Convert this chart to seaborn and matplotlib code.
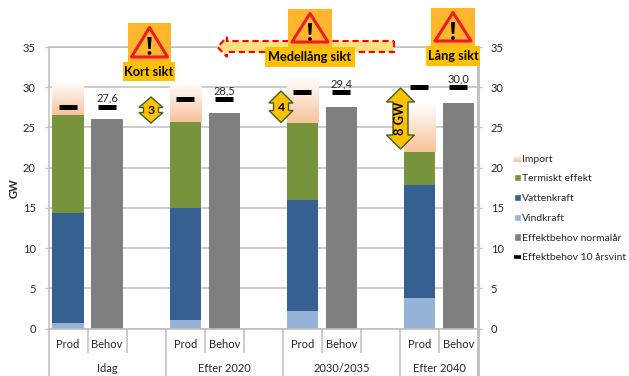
import numpy as np
import pandas as pd
import matplotlib
matplotlib.use("Agg")
import matplotlib.pyplot as plt
import seaborn as sns
from matplotlib.colors import LinearSegmentedColormap
from matplotlib.legend_handler import HandlerBase
from matplotlib.lines import Line2D
from matplotlib.patches import Patch, Polygon, Rectangle, Circle

# Capacity balance per period (GW)
periods = ["Idag", "Efter 2020", "2030/2035", "Efter 2040"]
bar_labels = ["Prod", "Behov"]
vindkraft = [0.7, 1.05, 2.2, 3.8]
vattenkraft = [13.7, 13.95, 13.8, 14.1]
termiskt = [12.1, 10.65, 9.6, 4.1]
importkraft = [4.0, 4.9, 5.6, 6.0]
behov_normal = [26.0, 26.8, 27.5, 28.0]
behov_10ar = [27.6, 28.5, 29.4, 30.0]
behov_text = ["27,6", "28,5", "29,4", "30,0"]
gap_labels = ["3", "4", "8 GW"]
horizon_labels = ["Kort sikt", "Medellång sikt", "Lång sikt"]
y_ticks = [0, 5, 10, 15, 20, 25, 30, 35]

C_VIND, C_VATTEN = "#95B3D7", "#366092"
C_TERM, C_GRAY = "#77933C", "#7F7F7F"
C_IMP_LOW = "#F9C29A"
C_GRID, C_TEXT = "#BFBFBF", "#262626"
C_GOLD, C_ICON = "#FFC000", "#FFB62C"
FONT = "Lato"
FS = 8.0
LEG_FS = 7.5

sns.set_theme(style="white")
plt.rcParams["font.family"] = [FONT, "DejaVu Sans"]
plt.rcParams["text.color"] = C_TEXT

W, H = 629, 376
fig = plt.figure(figsize=(W / 100, H / 100), dpi=100, facecolor="white")
L, R, T, B = 48.5, 478.0, 47.0, 328.7
ax = fig.add_axes([L / W, 1 - B / H, (R - L) / W, (B - T) / H])

prod_slots = [0, 3, 6, 9]
behov_slots = [1, 4, 7, 10]
slot_order = list(range(11))
imp_ramp = LinearSegmentedColormap.from_list("imp", ["#FFFFFF", C_IMP_LOW])


def stacked(slots, values, bottoms, color):
    df = pd.DataFrame({"slot": slots, "gw": values})
    sns.barplot(data=df, x="slot", y="gw", order=slot_order, color=color,
                saturation=1, width=0.8, bottom=bottoms, errorbar=None,
                linewidth=0, edgecolor="none", ax=ax)


base = np.zeros(4)
for vals, col in [(vindkraft, C_VIND), (vattenkraft, C_VATTEN), (termiskt, C_TERM)]:
    stacked(prod_slots, vals, base, col)
    base = base + np.array(vals)
stacked(behov_slots, behov_normal, np.zeros(4), C_GRAY)

# Import fades from peach at the base to white at the top of each bar
ramp = np.linspace(0, 1, 64)[:, None]
for slot, b0, h in zip(prod_slots, base, importkraft):
    ax.imshow(ramp, cmap=imp_ramp, origin="upper", aspect="auto", zorder=2.5,
              extent=(slot - 0.4, slot + 0.4, b0, b0 + h))

ax.plot(prod_slots, behov_10ar, ls="", marker="_", ms=13.6, mew=3.6, color="black", zorder=4)
ax.plot(behov_slots, behov_10ar, ls="", marker="_", ms=13.6, mew=3.6, color="black", zorder=4)
for slot, val, txt in zip(behov_slots, behov_10ar, behov_text):
    ax.annotate(txt, (slot, val), xytext=(0, 2.2), textcoords="offset points",
                ha="center", va="bottom", fontsize=FS, color=C_TEXT, zorder=5)

ax.set_xlim(-0.5, 10.5)
ax.set_ylim(0, 35)
ax.set_axisbelow(True)
ax.set_yticks(y_ticks)
ax.yaxis.grid(True, color=C_GRID, lw=1.1)
ax.xaxis.grid(False)
ax.set_xticks([])
ax.set_xlabel("")
ax.set_ylabel("GW", fontsize=FS, fontweight="bold", labelpad=2, color=C_TEXT)
ax.tick_params(axis="y", left=True, length=3.2, width=1, color=C_GRID, pad=6,
               labelsize=FS, labelcolor=C_TEXT)
for side, lw in [("left", 1.1), ("right", 2.0), ("top", 1.1), ("bottom", 1.1)]:
    ax.spines[side].set_color(C_GRID)
    ax.spines[side].set_linewidth(lw)

ax2 = ax.twinx()
ax2.set_ylim(0, 35)
ax2.set_yticks(y_ticks)
ax2.grid(False)
ax2.tick_params(axis="y", right=True, length=3.2, width=1, color=C_GRID, pad=6,
                labelsize=FS, labelcolor=C_TEXT)
for s in ax2.spines.values():
    s.set_visible(False)

# Overlay in pixel units for the two-level axis and the callouts
ov = fig.add_axes([0, 0, 1, 1], facecolor="none")
ov.set_xlim(0, W)
ov.set_ylim(H, 0)
ov.axis("off")
ov.set_zorder(10)

slot_w = (R - L) / 11
for i in range(12):
    x = L + i * slot_w
    if i == 11:
        ov.plot([x, x], [B, H], color=C_GRID, lw=2.0, solid_capstyle="butt")
    else:
        end = H if i % 3 == 0 else 352.7
        ov.plot([x, x], [B, end], color=C_GRID, lw=1.1, solid_capstyle="butt")
for k, period in enumerate(periods):
    x0 = L + 3 * k * slot_w
    for j, lab in enumerate(bar_labels):
        ov.text(x0 + (j + 0.5) * slot_w, 345, lab, ha="center", va="center",
                fontsize=FS, color=C_TEXT)
    span = 2 if k == 3 else 3
    ov.text(x0 + span * slot_w / 2, 369, period, ha="center", va="center",
            fontsize=FS, color=C_TEXT)


def double_arrow(xc, top, bottom, half_head, half_shaft, head):
    pts = [(xc, top), (xc + half_head, top + head), (xc + half_shaft, top + head),
           (xc + half_shaft, bottom - head), (xc + half_head, bottom - head), (xc, bottom),
           (xc - half_head, bottom - head), (xc - half_shaft, bottom - head),
           (xc - half_shaft, top + head), (xc - half_head, top + head)]
    ov.add_patch(Polygon(pts, closed=True, fc=C_GOLD, ec="#3F5F22", lw=1.0, zorder=6, joinstyle="miter"))


double_arrow(151, 97, 123, 12, 7.5, 10.5)
double_arrow(281, 91, 122.5, 12, 7.5, 12)
double_arrow(400.5, 88, 149, 14, 7.5, 14)
ov.text(151, 110.5, gap_labels[0], ha="center", va="center", fontsize=8.8, fontweight="bold", color="black", zorder=7)
ov.text(281, 107.5, gap_labels[1], ha="center", va="center", fontsize=8.8, fontweight="bold", color="black", zorder=7)
ov.text(400.5, 118, gap_labels[2], ha="center", va="center", rotation=90, fontsize=9.3,
        fontweight="bold", color="black", zorder=7)

# Long horizontal arrow pointing back in time
shaft = [(394, 41), (394, 52), (227, 52), (227, 57), (217.5, 47), (227, 37), (227, 41)]
ov.add_patch(Polygon(shaft, closed=True, fc="#FFDF80", ec="none", zorder=6))
ov.add_patch(Polygon(shaft, closed=True, fill=False, ec="#FF0000", lw=1.5,
                     linestyle=(0, (3.0, 1.8)), zorder=6.1))


def warning(x0, x1, y0, y1):
    ov.add_patch(Rectangle((x0, y0), x1 - x0, y1 - y0, fc=C_ICON, ec="none", zorder=8))
    xc = (x0 + x1) / 2
    tri = [(xc, y0 + 4.5), (xc + 18, y1 - 5), (xc - 18, y1 - 5)]
    ov.add_patch(Polygon(tri, closed=True, fc=C_ICON, ec="#ED1C24", lw=2.2, joinstyle="round", zorder=8.1))
    bar = [(xc - 2.1, y0 + 14), (xc + 2.1, y0 + 14), (xc + 1.2, y0 + 26), (xc - 1.2, y0 + 26)]
    ov.add_patch(Polygon(bar, closed=True, fc="black", ec="none", zorder=8.2))
    ov.add_patch(Circle((xc, y0 + 30), 1.9, fc="black", ec="none", zorder=8.2))


def tag(x0, x1, y0, y1, txt):
    ov.add_patch(Rectangle((x0, y0), x1 - x0, y1 - y0, fc=C_GOLD, ec="none", zorder=8.3))
    ov.text((x0 + x1) / 2, (y0 + y1) / 2, txt, ha="center", va="center", fontsize=9.2,
            fontweight="bold", color="black", zorder=8.4)


warning(128, 171, 23, 62)
tag(123, 175, 62, 81, horizon_labels[0])
warning(288, 332, 9, 47)
tag(265, 355, 47, 67, horizon_labels[1])
warning(431, 475, 8, 46)
tag(426, 480, 46, 66, horizon_labels[2])


class RampHandler(HandlerBase):
    """Legend key painted as a stack of thin strips to show the import fade."""

    def create_artists(self, legend, orig, xd, yd, width, height, fontsize, trans):
        n = 10
        return [Rectangle((-xd, -yd + height * i / n), width, height / n + 0.2,
                          fc=imp_ramp(1 - i / (n - 1)), ec="none", transform=trans)
                for i in range(n)]


handles = [Patch(label="Import"), Patch(fc=C_TERM, label="Termiskt effekt"),
           Patch(fc=C_VATTEN, label="Vattenkraft"), Patch(fc=C_VIND, label="Vindkraft"),
           Patch(fc=C_GRAY, label="Effektbehov normalår"),
           Line2D([], [], color="black", lw=2.6, solid_capstyle="butt", label="Effektbehov 10 årsvint")]
handler_map = {handles[0]: RampHandler()}
fig.legend(handles=handles, handler_map=handler_map, loc="upper left",
           bbox_to_anchor=(513.5 / W, 1 - 154.5 / H), frameon=False, fontsize=LEG_FS,
           handlelength=0.72, handleheight=0.7, handletextpad=0.12, labelspacing=1.0,
           borderpad=0, borderaxespad=0, labelcolor=C_TEXT)

fig.savefig("out.png", dpi=100)
